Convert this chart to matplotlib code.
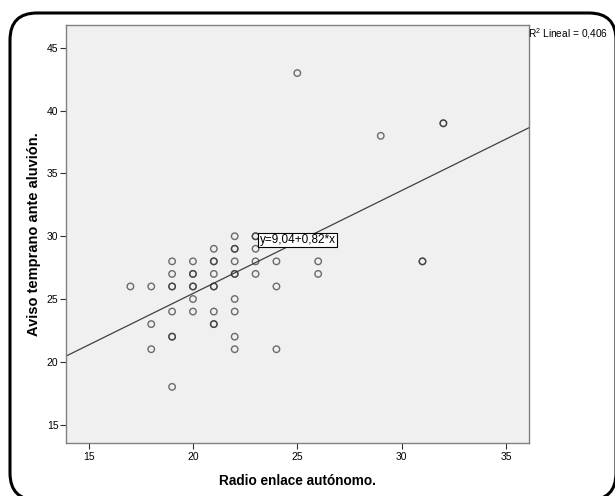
import matplotlib
matplotlib.use("Agg")
import matplotlib.pyplot as plt
from matplotlib.patches import FancyBboxPatch
import numpy as np

plt.rcParams['font.family'] = ['Liberation Sans', 'DejaVu Sans']
plt.rcParams['mathtext.fontset'] = 'custom'
plt.rcParams['mathtext.rm'] = 'Liberation Sans'

# datos (repetidos = puntos superpuestos)
radio_enlace = [17,
                18, 18, 18,
                19, 19, 19, 19, 19, 19, 19, 19,
                20, 20, 20, 20, 20, 20, 20,
                21, 21, 21, 21, 21, 21, 21, 21, 21,
                22, 22, 22, 22, 22, 22, 22, 22, 22, 22,
                23, 23, 23, 23, 23,
                24, 24, 24,
                25,
                26, 26,
                29,
                31, 31,
                32, 32]
aviso_temprano = [26,
                  26, 23, 21,
                  28, 27, 26, 26, 24, 22, 22, 18,
                  28, 27, 27, 26, 26, 25, 24,
                  29, 28, 28, 27, 26, 26, 24, 23, 23,
                  30, 29, 29, 28, 27, 27, 25, 24, 22, 21,
                  30, 30, 29, 28, 27,
                  28, 26, 21,
                  43,
                  28, 27,
                  38,
                  28, 28,
                  39, 39]

intercepto = 9.04
pendiente = 0.82
r2 = 0.406
xticks = [15, 20, 25, 30, 35]
yticks = [15, 20, 25, 30, 35, 40, 45]

fig = plt.figure(figsize=(6.15, 4.96), dpi=100)
ax = fig.add_axes([0.1068, 0.1069, 0.7532, 0.8427])
ax.set_facecolor('#f0f0f0')

ax.scatter(radio_enlace, aviso_temprano, s=22, facecolors='none',
           edgecolors=(0.2, 0.2, 0.2, 0.7), linewidths=1.0, zorder=3)

xlim = (13.9, 36.1)
xs = np.array(xlim)
ax.plot(xs, intercepto + pendiente * xs, color='#404040', linewidth=0.9, zorder=2)

ax.text(23.2, 29.7, "y=9,04+0,82*x", fontsize=8.5, ha='left', va='center', zorder=5,
        bbox=dict(facecolor='white', edgecolor='black', linewidth=0.8, boxstyle='square,pad=0.12'))

ax.set_xlim(*xlim)
ax.set_ylim(13.53, 46.83)
ax.set_xticks(xticks)
ax.set_yticks(yticks)
ax.tick_params(labelsize=7.5, length=4.2, width=0.8, color='#303030')
ax.tick_params(axis='x', pad=2)
ax.tick_params(axis='y', pad=1)
for s in ax.spines.values():
    s.set_color('#808080')
    s.set_linewidth(1.0)

ax.set_xlabel("Radio enlace autónomo.", fontsize=9.8, fontweight='bold', labelpad=9)
ax.set_ylabel("Aviso temprano ante aluvión.", fontsize=10.5, fontweight='bold', labelpad=4)

fig.text(0.859, 0.933, r"R$^2$ Lineal = " + f"{r2:.3f}".replace('.', ','),
         fontsize=7.3, ha='left', va='center')

# marco redondeado alrededor de la figura (en pulgadas)
marco = FancyBboxPatch((0.10, -0.04), 6.06, 4.87,
                       boxstyle='round,pad=0,rounding_size=0.27',
                       transform=fig.dpi_scale_trans, facecolor='none',
                       edgecolor='black', linewidth=2.2)
fig.patches.append(marco)

plt.savefig("out.png", dpi=100)
